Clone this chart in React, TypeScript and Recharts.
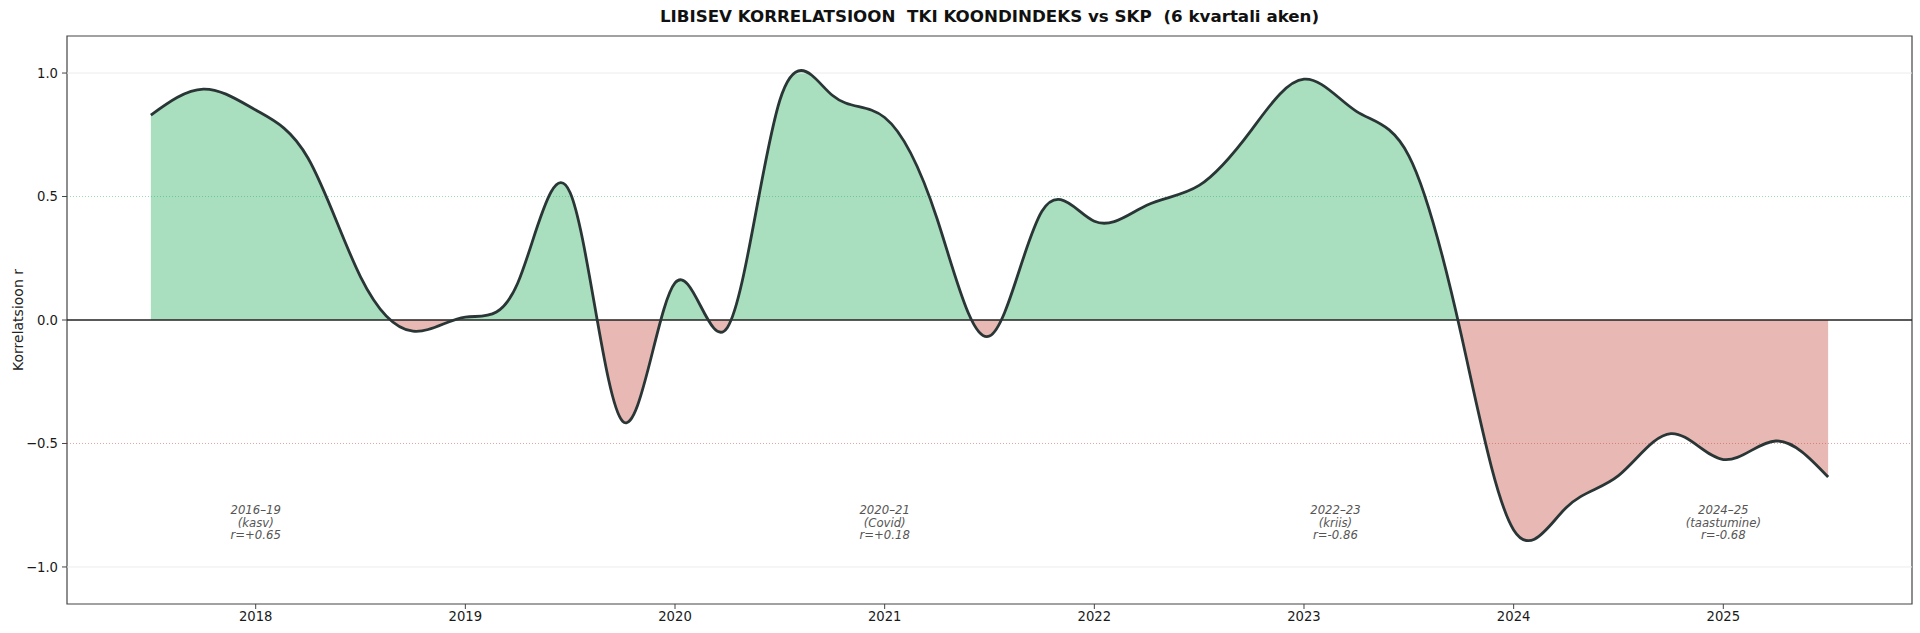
import { Area, ComposedChart, Line, ReferenceArea, ReferenceDot, ReferenceLine, XAxis, YAxis } from "recharts"

// rolling 6-quarter correlation, one value per quarter end
const quarters = [
  "2017Q2", "2017Q3", "2017Q4",
  "2018Q1", "2018Q2", "2018Q3", "2018Q4",
  "2019Q1", "2019Q2", "2019Q3", "2019Q4",
  "2020Q1", "2020Q2", "2020Q3", "2020Q4",
  "2021Q1", "2021Q2", "2021Q3", "2021Q4",
  "2022Q1", "2022Q2", "2022Q3", "2022Q4",
  "2023Q1", "2023Q2", "2023Q3", "2023Q4",
  "2024Q1", "2024Q2", "2024Q3", "2024Q4",
  "2025Q1", "2025Q2",
]
const corr = [
  0.83, 0.935, 0.85,
  0.655, 0.175, -0.045, 0.012,
  0.15, 0.515, -0.41, 0.15,
  -0.03, 0.89, 0.91, 0.82,
  0.41, -0.065, 0.44, 0.4,
  0.465, 0.545, 0.77, 0.975,
  0.845, 0.665, -0.06, -0.85,
  -0.76, -0.63, -0.46, -0.565,
  -0.49, -0.636,
]

const yearTicks = [2018, 2019, 2020, 2021, 2022, 2023, 2024, 2025]
const rTicks = [-1, -0.5, 0, 0.5, 1]

// period notes shown under the curve
const periodNames = ["2016–19", "2020–21", "2022–23", "2024–25"]
const periodTags = ["kasv", "Covid", "kriis", "taastumine"]
const periodR = [0.65, 0.18, -0.86, -0.68]
const periodAt = [2018.0, 2021.0, 2023.15, 2025.0]

const data = quarters.map((q, i) => ({
  t: Number(q.slice(0, 4)) + Number(q.slice(5)) * 0.25,
  r: corr[i],
}))

const W = 1920
const H = 633
const TOP = 36
const BOTTOM = 604
const FONT = "DejaVu Sans, Verdana, sans-serif"

const fmtTick = (v: number) => v.toFixed(1).replace("-", "\u2212")
const fmtR = (v: number) => `r=${v >= 0 ? "+" : ""}${v.toFixed(2)}`

function YLabel(props: any) {
  const vb = props.viewBox
  const cy = vb ? vb.y + vb.height / 2 : (TOP + BOTTOM) / 2
  return (
    <text
      x={18}
      y={cy}
      transform={`rotate(-90 18 ${cy})`}
      textAnchor="middle"
      dominantBaseline="central"
      fontSize={14}
      fill="#222"
      fontFamily={FONT}
    >
      Korrelatsioon r
    </text>
  )
}

function periodNote(i: number) {
  return (props: any) => {
    const { cx, cy } = props
    const lines = [periodNames[i], `(${periodTags[i]})`, fmtR(periodR[i])]
    return (
      <g>
        {lines.map((s, k) => (
          <text
            key={k}
            x={cx}
            y={cy + (k - 1) * 12.7}
            textAnchor="middle"
            dominantBaseline="central"
            fontSize={11.7}
            fontStyle="italic"
            fill="#555"
            fontFamily={FONT}
          >
            {s}
          </text>
        ))}
      </g>
    )
  }
}

export default function App() {
  return (
    <div style={{ position: "absolute", left: 0, top: 0, width: W, height: H, background: "#fff" }}>
      <div
        style={{
          position: "absolute",
          left: 67,
          top: 6,
          width: 1845,
          textAlign: "center",
          fontFamily: FONT,
          fontWeight: "bold",
          fontSize: 16.7,
          lineHeight: "20px",
          color: "#111",
        }}
      >
        LIBISEV KORRELATSIOON&nbsp; TKI KOONDINDEKS vs SKP&nbsp; (6 kvartali aken)
      </div>
      <ComposedChart width={W} height={H} data={data} margin={{ top: TOP, right: 8, bottom: 0, left: 0 }}>
        <defs>
          <linearGradient id="signFill" gradientUnits="userSpaceOnUse" x1={0} y1={TOP} x2={0} y2={BOTTOM}>
            <stop offset="0" stopColor="#a9dfbf" />
            <stop offset="0.5" stopColor="#a9dfbf" />
            <stop offset="0.5" stopColor="#e8b9b4" />
            <stop offset="1" stopColor="#e8b9b4" />
          </linearGradient>
        </defs>
        <XAxis
          dataKey="t"
          type="number"
          domain={[2017.1, 2025.9]}
          ticks={yearTicks}
          interval={0}
          height={29}
          axisLine={false}
          tickLine={{ stroke: "#444" }}
          tickSize={5}
          tickMargin={3}
          tick={{ fontSize: 13.2, fill: "#1a1a1a", fontFamily: FONT }}
        />
        <YAxis
          type="number"
          domain={[-1.15, 1.15]}
          ticks={rTicks}
          interval={0}
          width={67}
          axisLine={false}
          tickLine={{ stroke: "#444" }}
          tickSize={5}
          tickMargin={4}
          tickFormatter={fmtTick}
          tick={{ fontSize: 13.2, fill: "#1a1a1a", fontFamily: FONT }}
          label={<YLabel />}
        />
        <Area
          dataKey="r"
          type="natural"
          baseValue={0}
          stroke="none"
          fill="url(#signFill)"
          fillOpacity={1}
          isAnimationActive={false}
          dot={false}
          activeDot={false}
        />
        <ReferenceLine y={1} stroke="#ececec" strokeWidth={1} />
        <ReferenceLine y={-1} stroke="#ececec" strokeWidth={1} />
        <ReferenceLine y={0.5} stroke="#27ae60" strokeOpacity={0.45} strokeWidth={1} strokeDasharray="1 2" />
        <ReferenceLine y={-0.5} stroke="#c0392b" strokeOpacity={0.45} strokeWidth={1} strokeDasharray="1 2" />
        <ReferenceLine y={0} stroke="#222" strokeWidth={1.3} />
        <Line
          dataKey="r"
          type="natural"
          stroke="#2a3636"
          strokeWidth={2.8}
          dot={false}
          activeDot={false}
          isAnimationActive={false}
        />
        {periodAt.map((x, i) => (
          <ReferenceDot key={i} x={x} y={-0.82} r={1} shape={periodNote(i)} />
        ))}
        <ReferenceArea
          x1={2017.1}
          x2={2025.9}
          y1={-1.15}
          y2={1.15}
          fill="none"
          fillOpacity={0}
          stroke="#444"
          strokeWidth={1.2}
        />
      </ComposedChart>
    </div>
  )
}
